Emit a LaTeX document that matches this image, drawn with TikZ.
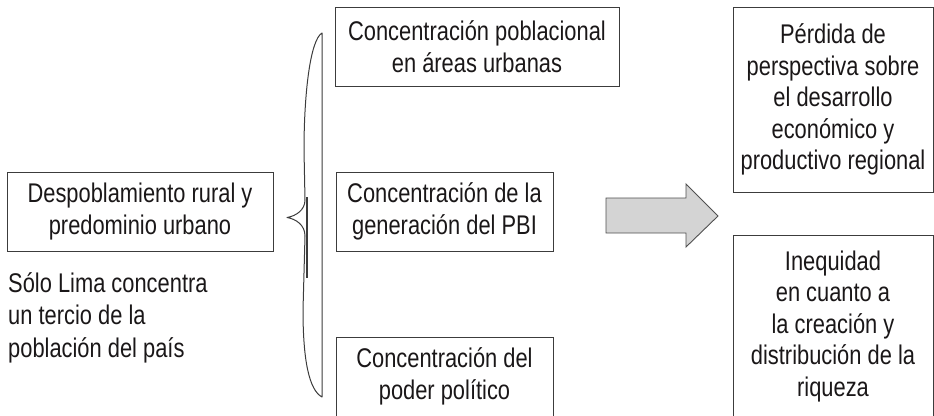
\documentclass[tikz,border=0pt]{standalone}
\usepackage{fontspec}
\usepackage{xcolor}
\usepackage{tikz}
\usetikzlibrary{calc}
\setmainfont{Liberation Sans}[FakeStretch=0.81]
\definecolor{edge}{HTML}{3C3C3C}
\definecolor{ink}{HTML}{1A1718}
\definecolor{shade}{HTML}{D4D4D4}

\begin{document}
\begin{tikzpicture}
    [x=1pt, y=-1pt,
     Box/.style={draw=edge, line width=1pt, text=ink, align=center, inner sep=0pt,
                 font=\fontsize{27}{31.5}\selectfont},
     Note/.style={text=ink, align=left, inner sep=0pt,
                 font=\fontsize{27}{32.5}\selectfont},
     Brace/.style={draw=edge, line width=1pt, line join=round},
     Big arrow/.style={draw=edge!90, line width=0.9pt, fill=shade}
    ]
\useasboundingbox (0,0) rectangle (934,415);
\clip (0,0) rectangle (934,415);

%cause on the left
\node[Box, minimum width=266pt, minimum height=79pt] (rural) at (140,211.5)
    {Despoblamiento rural y\\predominio urbano};
\node[Note, anchor=west] (lima) at (8,317.5)
    {Sólo Lima concentra\\un tercio de la\\población del país};

%brace
\coordinate (T) at (322,33);
\coordinate (B) at (322,397);
\coordinate (tip) at (287,217.5);
\draw[Brace] (T) .. controls (310,40) and (304,95) .. (304,150)
    -- (305,200) .. controls (305,210) and (296,216) .. (tip)
    .. controls (296,219) and (305,225) .. (305,236)
    -- (303,310) .. controls (303,360) and (309,390) .. (B) -- cycle;
\draw[draw=edge, line width=2.4pt] (306.8,197) -- (306.8,278);

%three concentrations
\node[Box, minimum width=284pt, minimum height=79pt] (urban) at (477,46.5)
    {Concentración poblacional\\en áreas urbanas};
\node[Box, minimum width=217pt, minimum height=79pt] (pbi) at (444.5,211.5)
    {Concentración de la\\generación del PBI};
\node[Box, minimum width=217pt, minimum height=79pt] (power) at (444.5,376.5)
    {Concentración del\\poder político};

%big arrow
\coordinate (A) at (606,215.5);
\draw[Big arrow] ($(A)+(0,-17.5)$) -- ($(A)+(80,-17.5)$) -- ($(A)+(80,-31.5)$)
    -- ($(A)+(112,0.5)$) -- ($(A)+(80,31.5)$) -- ($(A)+(80,17.5)$)
    -- ($(A)+(0,17.5)$) -- cycle;

%consequences
\node[Box, minimum width=200pt, minimum height=185pt] (loss) at (833,99.5)
    {Pérdida de\\perspectiva sobre\\el desarrollo\\económico y\\productivo regional};
\node[Box, minimum width=200pt, minimum height=183pt] (inequity) at (833,326.5)
    {Inequidad\\en cuanto a\\la creación y\\distribución de la\\riqueza};

\end{tikzpicture}
\end{document}
